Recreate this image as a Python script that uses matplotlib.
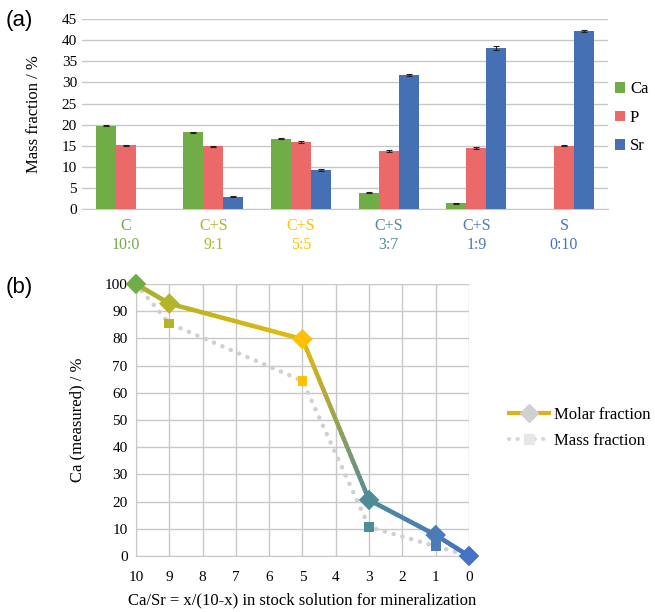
"""Mass fractions of Ca/P/Sr (a) and measured Ca vs stock solution ratio (b)."""
import matplotlib
matplotlib.use("Agg")
import matplotlib.pyplot as plt
import matplotlib.colors as mcolors
from matplotlib.collections import LineCollection
from matplotlib.lines import Line2D
import numpy as np

plt.rcParams['font.family'] = ['Liberation Serif', 'DejaVu Serif']

# ---- data, panel (a)
groups = ["C\n10:0", "C+S\n9:1", "C+S\n5:5", "C+S\n3:7", "C+S\n1:9", "S\n0:10"]
group_colors = ['#70ad47', '#b3b32c', '#ffc000', '#4f8b99', '#4c7bb6', '#4472c4']
ca = [19.8, 18.2, 16.7, 3.9, 1.4, 0.0]
p = [15.1, 14.9, 15.9, 13.8, 14.5, 15.0]
sr = [0.0, 3.0, 9.2, 31.8, 38.1, 42.2]
ca_err = [0.2, 0.15, 0.15, 0.15, 0.1, 0.0]
p_err = [0.15, 0.1, 0.15, 0.15, 0.2, 0.1]
sr_err = [0.0, 0.1, 0.25, 0.3, 0.5, 0.2]

# ---- data, panel (b)
ratio_x = [10, 9, 5, 3, 1, 0]
molar = [100, 92.8, 79.7, 20.6, 7.7, 0.0]
mass = [100, 85.5, 64.4, 10.7, 3.6, 0.0]

bar_colors = {'Ca': '#70ad47', 'P': '#eb6a69', 'Sr': '#4670b4'}
# colours the molar line passes through at each point (Excel gradient look)
line_colors = ['#a4b03a', '#b5b423', '#e6ba0a', '#4f8b99', '#4a7cb8', '#4472c4']
grid_c = '#c8c8c8'

fig = plt.figure(figsize=(6.55, 6.12), dpi=100)

# ================= panel (a)
ax1 = fig.add_axes([0.125, 0.658, 0.803, 0.311])
x = np.arange(len(groups))
w = 0.228
ekw = dict(ecolor='#222222', elinewidth=0.8, capsize=2.5, capthick=0.8)
ax1.bar(x - w, ca, w, color=bar_colors['Ca'], label='Ca', zorder=3)
ax1.bar(x, p, w, color=bar_colors['P'], label='P', zorder=3)
ax1.bar(x + w, sr, w, color=bar_colors['Sr'], label='Sr', zorder=3)
for off, vals, errs in [(-w, ca, ca_err), (0, p, p_err), (w, sr, sr_err)]:
    for xi, v, e in zip(x, vals, errs):
        if v > 0:
            ax1.errorbar(xi + off, v, yerr=e, fmt='none', zorder=4, **ekw)

ax1.set_xlim(-0.5, len(groups) - 0.5)
ax1.set_ylim(0, 45)
ax1.set_yticks(np.arange(0, 46, 5))
ax1.yaxis.grid(True, color=grid_c, lw=1)
ax1.set_axisbelow(True)
for s in ['top', 'right', 'left']:
    ax1.spines[s].set_visible(False)
ax1.spines['bottom'].set_color(grid_c)
ax1.tick_params(axis='both', length=0, labelsize=11)
ax1.tick_params(axis='x', pad=6)
ax1.set_xticks(x)
ax1.set_xticklabels(groups, linespacing=1.25, fontsize=11.5)
for lab, c in zip(ax1.get_xticklabels(), group_colors):
    lab.set_color(c)
ax1.set_ylabel("Mass fraction / %", fontsize=12, labelpad=14)
ax1.legend(loc='center left', bbox_to_anchor=(0.985, 0.48), frameon=False,
           fontsize=12, handlelength=0.6, handleheight=0.6, handletextpad=0.3,
           labelspacing=0.75)

fig.text(0.008, 0.966, "(a)", fontsize=16, family='Liberation Sans', va='center')

# ================= panel (b)
ax2 = fig.add_axes([0.2076, 0.0915, 0.5084, 0.4445])
ax2.set_xlim(10, 0)
ax2.set_ylim(0, 100)
ax2.set_xticks(np.arange(10, -1, -1))
ax2.set_yticks(np.arange(0, 101, 10))
ax2.grid(True, color=grid_c, lw=1)
ax2.set_axisbelow(True)
for s in ['top', 'right']:
    ax2.spines[s].set_visible(False)
for s in ['left', 'bottom']:
    ax2.spines[s].set_color(grid_c)
ax2.tick_params(axis='both', length=0, labelsize=11)
ax2.tick_params(axis='x', pad=11)
ax2.tick_params(axis='y', pad=6)
ax2.set_ylabel("Ca (measured) / %", fontsize=12, labelpad=14)
ax2.set_xlabel("Ca/Sr = x/(10-x) in stock solution for mineralization",
               fontsize=12, labelpad=6)

# mass fraction: dotted gray line with coloured squares
dots = (0, (0.05, 2.0))
ax2.plot(ratio_x, mass, color='#d0d0d0', lw=3.2, ls=dots,
         dash_capstyle='round', zorder=3, clip_on=False)
ax2.scatter(ratio_x, mass, marker='s', s=50, c=group_colors, zorder=4,
            clip_on=False, edgecolors='none')

# molar fraction: colour-graded line with diamonds
pt_rgb = [mcolors.to_rgb(c) for c in line_colors]
segs, cols = [], []
for i in range(len(ratio_x) - 1):
    t = np.linspace(0, 1, 30)
    xs = ratio_x[i] + (ratio_x[i + 1] - ratio_x[i]) * t
    ys = molar[i] + (molar[i + 1] - molar[i]) * t
    c0 = np.array(pt_rgb[i])
    c1 = np.array(pt_rgb[i + 1])
    for k in range(len(t) - 1):
        segs.append([(xs[k], ys[k]), (xs[k + 1], ys[k + 1])])
        cols.append(c0 + (c1 - c0) * t[k])
lc = LineCollection(segs, colors=cols, linewidths=3.2, capstyle='round',
                    zorder=5, clip_on=False)
ax2.add_collection(lc)
ax2.scatter(ratio_x, molar, marker='D', s=110, c=group_colors, zorder=6,
            clip_on=False, edgecolors='none')

h_molar = Line2D([], [], color='#e0b020', lw=3, marker='D', markersize=9,
                 markerfacecolor='#d0d0d0', markeredgecolor='#d0d0d0')
h_mass = Line2D([], [], color='#d8d8d8', lw=3, ls=dots, dash_capstyle='round',
                marker='s', markersize=7, markerfacecolor='#e6e6e6',
                markeredgecolor='#e6e6e6')
ax2.legend([h_molar, h_mass], ["Molar fraction", "Mass fraction"],
           loc='center left', bbox_to_anchor=(1.075, 0.47), frameon=False,
           fontsize=12, handlelength=2.4, handletextpad=0.3,
           labelspacing=0.6)

fig.text(0.008, 0.53, "(b)", fontsize=16, family='Liberation Sans', va='center')

fig.savefig("out.png", dpi=100)
